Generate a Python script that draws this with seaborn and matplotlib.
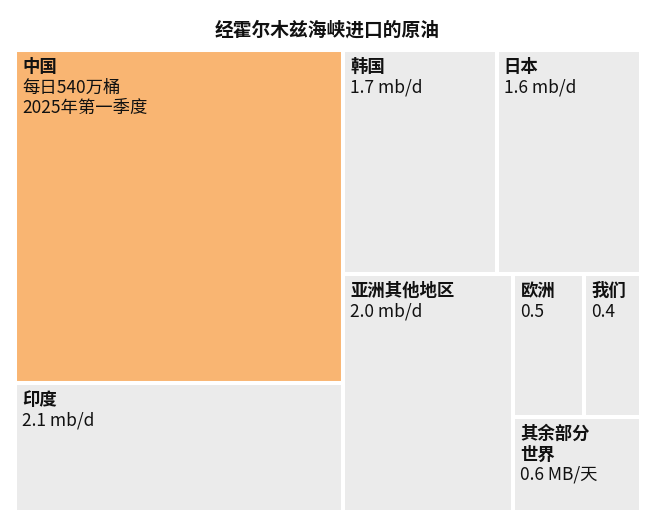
import matplotlib
matplotlib.use("Agg")
import matplotlib.pyplot as plt
import seaborn as sns
from matplotlib.patches import Rectangle

# crude oil imports through the Strait of Hormuz, mb/d
names = ['中国', '印度', '韩国', '日本', '亚洲其他地区', '欧洲', '我们', '其余部分\n世界']
values = [5.4, 2.1, 1.7, 1.6, 2.0, 0.5, 0.4, 0.6]
value_labels = ['每日540万桶\n2025年第一季度', '2.1 mb/d', '1.7 mb/d', '1.6 mb/d',
                '2.0 mb/d', '0.5', '0.4', '0.6 MB/天']
highlight = '中国'

# nesting of the slice-and-dice layout (direction alternates per level)
tree = [['中国', '印度'],
        [['韩国', '日本'],
         ['亚洲其他地区', [['欧洲', '我们'], '其余部分\n世界']]]]

sns.set_theme(style='white')
plt.rcParams['font.family'] = ['Noto Sans CJK SC', 'DejaVu Sans']

val = dict(zip(names, values))


def total(node):
    if isinstance(node, str):
        return val[node]
    return sum(total(c) for c in node)


def layout(node, x0, y0, x1, y1, horizontal, out):
    if isinstance(node, str):
        out[node] = (x0, y0, x1, y1)
        return
    s = total(node)
    pos = x0 if horizontal else y0
    for child in node:
        frac = total(child) / s
        if horizontal:
            w = (x1 - x0) * frac
            layout(child, pos, y0, pos + w, y1, not horizontal, out)
        else:
            w = (y1 - y0) * frac
            layout(child, x0, pos, x1, pos + w, not horizontal, out)
        pos += w


rects = {}
layout(tree, 0, 0, 1, 1, True, rects)

W, H = 655, 522
fig = plt.figure(figsize=(W / 100, H / 100), dpi=100)
ax = fig.add_axes([15 / W, (H - 512) / H, (641 - 15) / W, (512 - 50) / H])
ax.set_xlim(0, 1)
ax.set_ylim(1, 0)
ax.axis('off')

orange = '#f9b572'
gray = '#ebebeb'
line_px = 20.5

for name, lab in zip(names, value_labels):
    x0, y0, x1, y1 = rects[name]
    ax.add_patch(Rectangle((x0, y0), x1 - x0, y1 - y0,
                           facecolor=orange if name == highlight else gray,
                           edgecolor='white', linewidth=2.9))
    lines = [(t, 'bold') for t in name.split('\n')] + [(t, 'normal') for t in lab.split('\n')]
    for i, (t, wt) in enumerate(lines):
        ax.annotate(t, xy=(x0, y0), xytext=(7, -8 - i * line_px),
                    textcoords='offset pixels', ha='left', va='top',
                    fontsize=12.5, fontweight=wt, color='#111111')

fig.text(0.5, 1 - 30 / H, '经霍尔木兹海峡进口的原油', ha='center', va='center',
         fontsize=13.5, fontweight='bold', color='#111111')

fig.savefig('out.png', dpi=100)
